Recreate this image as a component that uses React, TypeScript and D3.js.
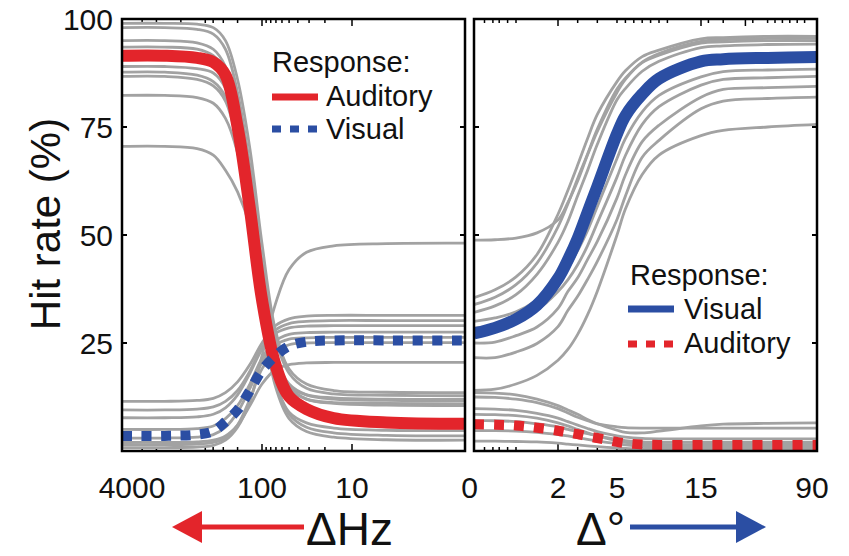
import * as d3 from "d3";

// ---- data ----
// left panel: frequency difference (Hz, log axis, drawn right-to-left)
const hzSamples = [5300, 1585, 631, 398, 282, 200, 141, 100, 71, 50, 32, 16, 4, 0.5];
const hzTickLabels = [4000, 100, 10];
const hzMajorTicks = [100, 10];
const hzMinorTicks = [3000, 2000, 1000, 500, 400, 300, 200, 90, 80, 70, 60, 50, 40, 30, 20];

// mean curves, left panel (hit rate %)
const leftAuditoryMean = [91.5, 91.5, 91, 90, 87, 75, 56, 35, 20, 12.6, 9.7, 7.6, 6.6, 6.3];
const leftVisualMean = [3.5, 3.5, 3.8, 4.6, 6.8, 9.5, 14, 18.7, 22, 24.3, 25.3, 25.6, 25.6, 25.6];

// single subjects, left panel
const leftAuditorySubjects = [
  [99, 99, 98.8, 98, 95, 86, 70, 48, 28, 19, 15.5, 14, 13.6, 13.5],
  [98, 98, 97.6, 96.5, 93, 83, 66, 44, 26, 18, 14.5, 13.2, 12.9, 12.8],
  [95, 95, 94.5, 93, 89, 78, 60, 38, 22, 15.5, 13, 12, 11.7, 11.6],
  [93.5, 93.5, 93, 91.5, 88, 77, 58, 36, 21, 14.5, 12, 11.2, 11, 10.9],
  [89, 89, 88.5, 87.5, 84, 73, 54, 32, 16, 9, 6.5, 5.3, 4.8, 4.7],
  [87.7, 87.7, 87, 85.5, 82, 72, 54, 33, 16, 8.5, 5.5, 4.2, 3.6, 3.5],
  [86.7, 86.7, 86, 84.5, 81, 71, 53, 32, 15, 7.5, 4.5, 3.2, 2.6, 2.5],
  [82.3, 82.3, 81.8, 80.5, 77, 69, 54, 35, 21, 15, 13, 12.3, 12, 12],
  [70.5, 70.5, 70, 68.5, 65, 60, 52, 36, 22, 15, 12, 11, 10.6, 10.5],
];
const leftVisualSubjects = [
  [11.5, 11.5, 11.7, 12.2, 13.5, 16, 20, 25, 29, 30.6, 31.2, 31.4, 31.4, 31.4],
  [9.5, 9.5, 9.7, 10.2, 11.5, 14, 18.5, 24, 28, 29.5, 30, 30.2, 30.2, 30.2],
  [7.7, 7.7, 7.9, 8.5, 10, 13, 18, 23.5, 27.2, 28.5, 28.9, 29, 29, 29],
  [5, 5, 5.2, 5.8, 7.5, 10.5, 15.5, 21.5, 25.5, 27, 27.4, 27.5, 27.5, 27.5],
  [3, 3, 3.2, 3.8, 5.5, 9, 14.5, 20.5, 24.5, 25.9, 26.2, 26.3, 26.3, 26.3],
  [2, 2, 2.1, 2.5, 3.5, 6, 10.5, 15.5, 18.8, 20, 20.4, 20.5, 20.5, 20.5],
  [0.8, 0.8, 0.9, 1.3, 2.5, 5.5, 11.5, 22, 34, 42, 46, 47.5, 48, 48.1],
  [1.5, 1.5, 1.6, 2, 3, 6, 12, 19, 23, 24.6, 25, 25.1, 25.1, 25.1],
];

// right panel: spatial disparity (deg)
const degSamples = [0, 0.5, 1, 1.5, 2, 2.5, 3, 3.5, 4, 5, 6, 8, 10, 15, 30, 60, 100];
const degTickLabels = [2, 5, 15, 90];
const degMajorTicks = [2, 15, 45];
const degMinorTicks = [0.25, 0.45, 0.6, 0.8, 1, 3, 4, 5, 6, 7, 8, 9, 10, 11, 20, 30, 50, 60, 65, 70, 75, 80, 85];

const rightVisualMean = [27.2, 28.5, 30.5, 33.8, 39.9, 44.2, 49.2, 55.2, 61.2, 73.4, 77.6, 82.6, 86.2, 90.2, 90.7, 91, 91.2];
const rightAuditoryMean = [6.2, 6.1, 5.9, 5.4, 4.7, 4.3, 3.9, 3.4, 3.0, 2.1, 1.8, 1.5, 1.4, 1.4, 1.4, 1.4, 1.4];

const rightVisualSubjects = [
  [35.5, 37.3, 40.3, 45.5, 54.8, 60.3, 66.2, 72.3, 77.9, 85.5, 88, 91.3, 92.8, 95.4, 95.7, 96, 96],
  [33.9, 35.6, 38.5, 43.5, 51.9, 57.2, 63.1, 68.7, 74.5, 83.8, 86.3, 89.9, 91.6, 94.4, 94.7, 95, 95],
  [32.1, 33.6, 36.2, 40.9, 48.3, 53.1, 59.1, 64.9, 71, 81.3, 83.9, 87.9, 90.2, 93.4, 93.8, 94.1, 94.2],
  [48.8, 48.9, 49.3, 50.5, 53.5, 57.5, 62.5, 68.5, 74, 83, 86, 90, 92, 94.8, 95.2, 95.5, 95.5],
  [30, 30.8, 32.2, 35, 39.3, 42.3, 46.4, 51, 56.6, 67.7, 72.3, 78.5, 82.3, 86.6, 87.8, 88.2, 88.4],
  [28.5, 29, 30.2, 32.6, 36.9, 39.6, 43.1, 47.5, 52.8, 63.4, 68.4, 75.6, 79.7, 84.7, 86, 86.4, 86.7],
  [25, 25.2, 26.7, 28.7, 33, 36.9, 40.1, 44.3, 48.5, 58.6, 63.9, 71.6, 75.4, 81.9, 83.7, 84.1, 84.4],
  [21.6, 21.6, 22.9, 24.9, 28.8, 32.5, 35.8, 39.7, 43.9, 53.6, 59, 68, 71.9, 79.2, 81, 81.6, 81.9],
  [14, 14.3, 15.5, 17.5, 21, 23.5, 27, 31.5, 37, 50, 56, 64, 68.5, 73, 74.2, 75, 75.6],
];
const rightAuditorySubjects = [
  [13.5, 13.4, 13, 12, 10.5, 9.5, 8.5, 7.3, 6.3, 4.8, 4.3, 4.2, 4.6, 5.8, 6.2, 6.4, 6.5],
  [12.5, 12.4, 12, 11.2, 9.8, 8.8, 7.8, 7, 6.3, 5.6, 5.4, 5.3, 5.3, 5.3, 5.3, 5.3, 5.3],
  [9.8, 9.7, 9.4, 8.7, 7.6, 6.8, 6, 5.2, 4.5, 3.5, 3.2, 2.9, 2.8, 2.8, 2.8, 2.8, 2.8],
  [8.5, 8.4, 8.2, 7.6, 6.5, 5.8, 5, 4.2, 3.5, 2.4, 2, 1.6, 1.5, 1.5, 1.5, 1.5, 1.5],
  [7, 7, 6.8, 6.3, 5.6, 5, 4.5, 4, 3.5, 2.7, 2.4, 2.1, 2, 2, 2, 2, 2],
  [4.7, 4.7, 4.6, 4.3, 3.8, 3.5, 3.1, 2.7, 2.3, 1.7, 1.4, 1.1, 1, 1, 1, 1, 1],
  [2.3, 2.3, 2.2, 2.1, 1.8, 1.6, 1.4, 1.2, 1, 0.7, 0.6, 0.5, 0.4, 0.4, 0.4, 0.4, 0.4],
];

const yTickValues = [25, 50, 75];
const yLabelValues = [100, 75, 50, 25];

// ---- styling ----
const RED = "#e3252b";
const BLUE = "#2b4ea3";
const GRAY = "#a2a2a2";
const FONT = "'Liberation Sans', Arial, sans-serif";

export default function App() {
  const width = 849;
  const height = 556;

  const y = d3.scaleLinear().domain([0, 100]).range([451, 19]);

  // piecewise log axis for Hz (4000 on the left, 0 at the right end)
  const xL = d3
    .scaleLinear()
    .domain([Math.log10(5300), Math.log10(4000), 2, 1, Math.log10(0.5)])
    .range([122, 132, 262, 352, 465]);
  const xR = d3
    .scaleLinear()
    .domain([0, 2, 5, 15, 90, 100])
    .range([474, 558, 617, 701, 812, 817]);

  const lineL = d3
    .line<number>()
    .x((_, i) => xL(Math.log10(hzSamples[i])))
    .y((d) => y(d))
    .curve(d3.curveCatmullRom.alpha(0.5));
  const lineR = d3
    .line<number>()
    .x((_, i) => xR(degSamples[i]))
    .y((d) => y(d))
    .curve(d3.curveCatmullRom.alpha(0.5));

  const top = y(100);
  const bottom = y(0);
  const lx0 = xL.range()[0], lx1 = xL.range()[4];
  const rx0 = xR.range()[0], rx1 = xR.range()[5];
  const zeroX = (lx1 + rx0) / 2;

  const yTicks = (x0: number, x1: number) =>
    yTickValues.map((v) => (
      <g key={`${x0}-${v}`}>
        <line x1={x0} x2={x0 + 5} y1={y(v)} y2={y(v)} stroke="#000" strokeWidth={2} />
        <line x1={x1} x2={x1 - 5} y1={y(v)} y2={y(v)} stroke="#000" strokeWidth={2} />
      </g>
    ));

  const xTicks = (xs: number[], len: number, key: string) =>
    xs.map((px, i) => (
      <g key={`${key}-${i}`}>
        <line x1={px} x2={px} y1={top} y2={top + len} stroke="#000" strokeWidth={1.5} />
        <line x1={px} x2={px} y1={bottom} y2={bottom - len} stroke="#000" strokeWidth={1.5} />
      </g>
    ));

  return (
    <svg
      width={width}
      height={height}
      style={{ position: "absolute", left: 0, top: 0, background: "#fff" }}
      fontFamily={FONT}
    >
      <defs>
        <clipPath id="clipL">
          <rect x={lx0} y={top} width={lx1 - lx0} height={bottom - top} />
        </clipPath>
        <clipPath id="clipR">
          <rect x={rx0} y={top} width={rx1 - rx0} height={bottom - top} />
        </clipPath>
      </defs>

      {/* ticks drawn first, curves run over them */}
      {yTicks(lx0, lx1)}
      {yTicks(rx0, rx1)}
      {xTicks(hzMajorTicks.map((v) => xL(Math.log10(v))), 7, "lM")}
      {xTicks(hzMinorTicks.map((v) => xL(Math.log10(v))), 4, "lm")}
      {xTicks(degMajorTicks.map((v) => xR(v)), 7, "rM")}
      {xTicks(degMinorTicks.map((v) => xR(v)), 4, "rm")}

      <g clipPath="url(#clipL)" fill="none">
        {[...leftAuditorySubjects, ...leftVisualSubjects].map((s, i) => (
          <path key={i} d={lineL(s) ?? ""} stroke={GRAY} strokeWidth={2.8} />
        ))}
        <path d={lineL(leftAuditoryMean) ?? ""} stroke={RED} strokeWidth={12} />
        <path
          d={lineL(leftVisualMean) ?? ""}
          stroke={BLUE}
          strokeWidth={10}
          strokeDasharray="10,9.5"
        />
      </g>

      <g clipPath="url(#clipR)" fill="none">
        {[...rightVisualSubjects, ...rightAuditorySubjects].map((s, i) => (
          <path key={i} d={lineR(s) ?? ""} stroke={GRAY} strokeWidth={2.8} />
        ))}
        <path d={lineR(rightVisualMean) ?? ""} stroke={BLUE} strokeWidth={12} />
        <path
          d={lineR(rightAuditoryMean) ?? ""}
          stroke={RED}
          strokeWidth={10}
          strokeDasharray="10,10"
        />
      </g>

      {/* frames */}
      <rect x={lx0} y={top} width={lx1 - lx0} height={bottom - top} fill="none" stroke="#000" strokeWidth={2.5} />
      <rect x={rx0} y={top} width={rx1 - rx0} height={bottom - top} fill="none" stroke="#000" strokeWidth={2.5} />

      {/* y axis labels */}
      {yLabelValues.map((v) => (
        <text key={v} x={113} y={y(v) + 11} fontSize={30} textAnchor="end" fill="#111">
          {v}
        </text>
      ))}
      <text
        transform={`translate(60,224) rotate(-90)`}
        fontSize={42}
        textAnchor="middle"
        fill="#111"
      >
        Hit rate (%)
      </text>

      {/* x axis labels */}
      {hzTickLabels.map((v) => (
        <text key={`h${v}`} x={xL(Math.log10(v))} y={498} fontSize={30} textAnchor="middle" fill="#111">
          {v}
        </text>
      ))}
      <text x={zeroX} y={498} fontSize={30} textAnchor="middle" fill="#111">
        0
      </text>
      {degTickLabels.map((v) => (
        <text key={`d${v}`} x={xR(v)} y={498} fontSize={30} textAnchor="middle" fill="#111">
          {v}
        </text>
      ))}

      {/* direction arrows */}
      <line x1={198} x2={304} y1={527} y2={527} stroke={RED} strokeWidth={5} />
      <polygon points="172,527 202,511 202,543" fill={RED} />
      <text x={306} y={545} fontSize={46} fill="#111">
        ΔHz
      </text>
      <text x={576} y={545} fontSize={46} fill="#111">
        Δ°
      </text>
      <line x1={630} x2={740} y1={527} y2={527} stroke={BLUE} strokeWidth={5} />
      <polygon points="766,527 736,511 736,543" fill={BLUE} />

      {/* legend, left panel */}
      <text x={272} y={72} fontSize={29} fill="#111">Response:</text>
      <line x1={272} x2={318} y1={97} y2={97} stroke={RED} strokeWidth={7} />
      <text x={326} y={106} fontSize={29} fill="#111">Auditory</text>
      <line x1={272} x2={318} y1={129} y2={129} stroke={BLUE} strokeWidth={7} strokeDasharray="9,9" />
      <text x={326} y={139} fontSize={29} fill="#111">Visual</text>

      {/* legend, right panel */}
      <text x={630} y={285} fontSize={29} fill="#111">Response:</text>
      <line x1={628} x2={674} y1={309} y2={309} stroke={BLUE} strokeWidth={7} />
      <text x={684} y={319} fontSize={29} fill="#111">Visual</text>
      <line x1={628} x2={674} y1={344} y2={344} stroke={RED} strokeWidth={7} strokeDasharray="9,9" />
      <text x={684} y={353} fontSize={29} fill="#111">Auditory</text>
    </svg>
  );
}
